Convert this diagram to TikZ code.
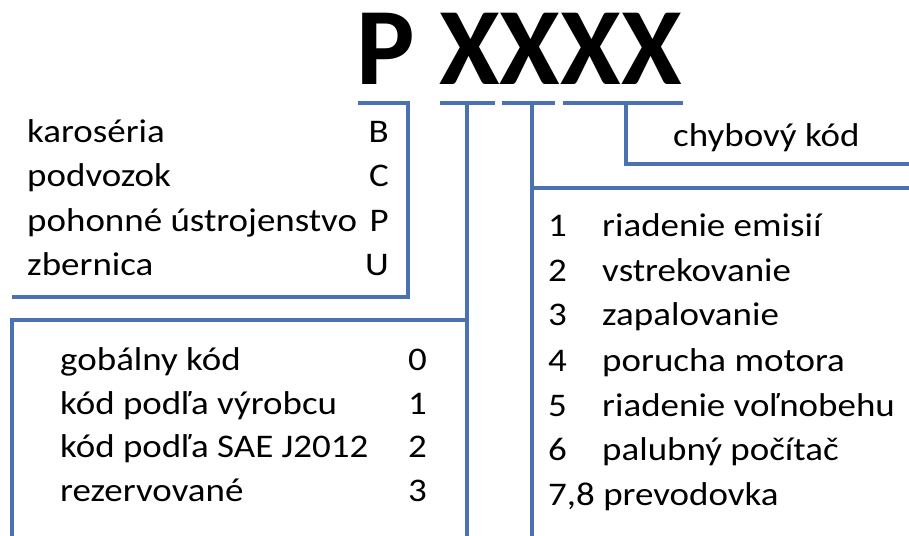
\documentclass[tikz,border=0pt]{standalone}
\usepackage{fontspec}
\setmainfont{Carlito}
\definecolor{lineblue}{RGB}{74,114,176}
\begin{document}
\begin{tikzpicture}[x=1bp,y=-1bp,
  bl/.style={draw=lineblue,line width=3.5bp},
  txt/.style={inner sep=0pt,font=\fontsize{33bp}{36bp}\selectfont,xscale=1.12,transform shape},
  big/.style={inner sep=0pt,font=\bfseries\fontsize{110bp}{120bp}\selectfont,xscale=1.0,transform shape}]
\useasboundingbox (0,0) rectangle (909,536);
% title
\node[big,anchor=base west] (P) at (356,85) {P};
\node[big,anchor=base west] (X) at (439,85) {XXXX};
% underline segments and connectors
\coordinate (p1) at (358,103);
\coordinate (p2) at (408,103);
\coordinate (p3) at (408,297);
\coordinate (p4) at (12,297);
\draw[bl] (p1) -- (p2) -- (p3) -- (p4);
\coordinate (a1) at (440,103);
\coordinate (a2) at (495,103);
\coordinate (av) at (467,103);
\coordinate (ab) at (467,540);
\coordinate (at) at (467,320);
\coordinate (al) at (12,320);
\coordinate (alb) at (12,540);
\draw[bl] (a1) -- (a2);
\draw[bl] (av) -- (ab);
\draw[bl] (alb) -- (al) -- (at);
\coordinate (b1) at (502,103);
\coordinate (b2) at (555,103);
\coordinate (bv) at (532,103);
\coordinate (bb) at (532,540);
\coordinate (bh) at (532,188);
\coordinate (br) at (912,188);
\draw[bl] (b1) -- (b2);
\draw[bl] (bv) -- (bb);
\draw[bl] (bh) -- (br);
\coordinate (c1) at (563,103);
\coordinate (c2) at (683,103);
\coordinate (cv) at (626,103);
\coordinate (cb) at (626,164);
\coordinate (cr) at (912,164);
\draw[bl] (c1) -- (c2);
\draw[bl] (cv) -- (cb) -- (cr);
% left upper group
\node[txt,anchor=base west] (l1) at (27,143) {karoséria};
\node[txt,anchor=base west] (l2) at (27,187) {podvozok};
\node[txt,anchor=base west] (l3) at (27,232) {pohonné ústrojenstvo};
\node[txt,anchor=base west] (l4) at (27,276) {zbernica};
\node[txt,anchor=base east] (k1) at (389,143) {B};
\node[txt,anchor=base east] (k2) at (389,187) {C};
\node[txt,anchor=base east] (k3) at (389,232) {P};
\node[txt,anchor=base east] (k4) at (389,276) {U};
% left lower group
\node[txt,anchor=base west] (g1) at (60,370) {gobálny kód};
\node[txt,anchor=base west] (g2) at (60,414) {kód podľa výrobcu};
\node[txt,anchor=base west] (g3) at (60,457) {kód podľa SAE J2012};
\node[txt,anchor=base west] (g4) at (60,501) {rezervované};
\node[txt,anchor=base east] (n1) at (427,370) {0};
\node[txt,anchor=base east] (n2) at (427,414) {1};
\node[txt,anchor=base east] (n3) at (427,457) {2};
\node[txt,anchor=base east] (n4) at (427,501) {3};
% chybovy kod
\node[txt,anchor=base west] (ch) at (673,147) {chybový kód};
% right group
\node[txt,anchor=base west] (r1n) at (548,237) {1};
\node[txt,anchor=base west] (r1) at (602,237) {riadenie emisií};
\node[txt,anchor=base west] (r2n) at (548,282) {2};
\node[txt,anchor=base west] (r2) at (602,282) {vstrekovanie};
\node[txt,anchor=base west] (r3n) at (548,326) {3};
\node[txt,anchor=base west] (r3) at (602,326) {zapalovanie};
\node[txt,anchor=base west] (r4n) at (548,371) {4};
\node[txt,anchor=base west] (r4) at (602,371) {porucha motora};
\node[txt,anchor=base west] (r5n) at (548,416) {5};
\node[txt,anchor=base west] (r5) at (602,416) {riadenie voľnobehu};
\node[txt,anchor=base west] (r6n) at (548,460) {6};
\node[txt,anchor=base west] (r6) at (602,460) {palubný počítač};
\node[txt,anchor=base west] (r7) at (548,505) {7,8 prevodovka};
\end{tikzpicture}
\end{document}
